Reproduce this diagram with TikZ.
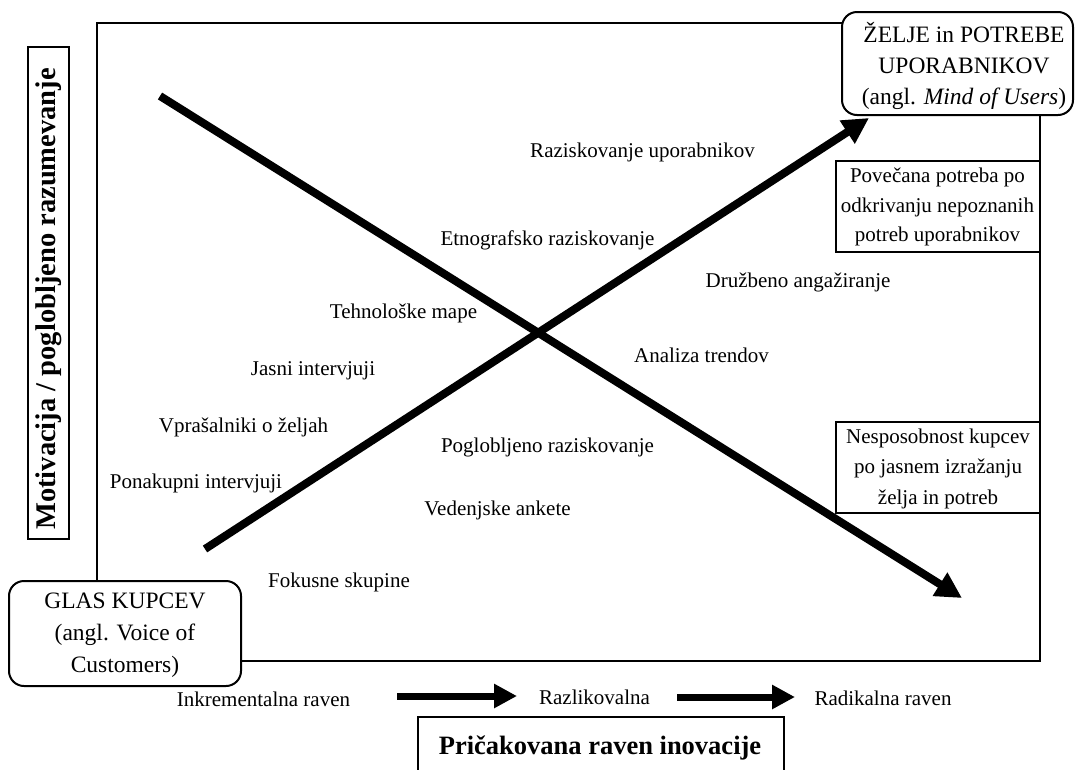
\documentclass[tikz,border=0pt]{standalone}
\usepackage{fontspec}
\setmainfont{Liberation Serif}
\usetikzlibrary{arrows.meta}

\begin{document}
\begin{tikzpicture}[x=1pt,y=-1pt,
  frame/.style={line width=2pt},
  lbl/.style={anchor=base, inner sep=0pt, font=\fontsize{21}{25}\selectfont},
  roundbox/.style={draw, line width=2pt, fill=white, rounded corners=15pt, inner sep=0pt},
  plainbox/.style={draw, line width=2pt, fill=white, inner sep=0pt, align=center,
    minimum width=204pt, minimum height=91pt},
  boxtext/.style={inner sep=0pt, align=center, font=\fontsize{23.5}{31}\selectfont},
  bigarrow/.style={line width=8pt, -{Triangle[length=26pt,width=26pt]}},
  levelarrow/.style={line width=7pt, -{Triangle[length=23pt,width=23pt]}},
]
\useasboundingbox (0,0) rectangle (1075,769);
\fill[white] (0,0) rectangle (1075,769);

% outer frame of the chart
\coordinate (ftl) at (97,23);
\coordinate (fbr) at (1040,661);
\draw[frame] (ftl) rectangle (fbr);

% vertical axis caption
\node[draw, line width=2pt, fill=white, minimum width=41pt, minimum height=492pt, inner sep=0pt]
  (axisbox) at (48.5,293) {};
\node[rotate=90, inner sep=0pt, font=\bfseries\fontsize{28.5}{32}\selectfont]
  (axistxt) at (49,299) {Motivacija / poglobljeno razumevanje};

% corner boxes
\node[roundbox, minimum width=231pt, minimum height=103pt] (zelje) at (957.5,63.5) {};
\node[boxtext] (zeljetxt) at (964,66.8)
  {\strut ŽELJE in POTREBE\\\strut UPORABNIKOV\\\strut (angl. \textit{Mind of Users})};

\node[roundbox, minimum width=232pt, minimum height=105pt] (glas) at (125,633.5) {};
\node[boxtext, font=\fontsize{23.5}{32}\selectfont] (glastxt) at (125,633.6)
  {\strut GLAS KUPCEV\\\strut (angl. Voice of\\\strut Customers)};

% boxes on the right edge
\node[plainbox, font=\fontsize{21}{29.5}\selectfont] (povecana) at (937.5,206.5)
  {\strut Povečana potreba po\\\strut odkrivanju nepoznanih\\\strut potreb uporabnikov};
\node[plainbox, font=\fontsize{21}{30.5}\selectfont] (nesposobnost) at (938,467.5)
  {\strut Nesposobnost kupcev\\\strut po jasnem izražanju\\\strut želja in potreb};

% crossing arrows
\coordinate (upstart) at (205,549);
\coordinate (upend) at (869,118);
\coordinate (downstart) at (160,96);
\coordinate (downend) at (962,598);
\draw[bigarrow] (upstart) -- (upend);
\draw[bigarrow] (downstart) -- (downend);

% methods
\node[lbl] (m1) at (642.5,157) {Raziskovanje uporabnikov};
\node[lbl] (m2) at (547.5,245) {Etnografsko raziskovanje};
\node[lbl] (m3) at (798,287) {Družbeno angažiranje};
\node[lbl] (m4) at (403.5,318) {Tehnološke mape};
\node[lbl] (m5) at (701.5,362) {Analiza trendov};
\node[lbl] (m6) at (313,375) {Jasni intervjuji};
\node[lbl] (m7) at (243.5,432) {Vprašalniki o željah};
\node[lbl] (m8) at (547.5,452) {Poglobljeno raziskovanje};
\node[lbl] (m9) at (196,488) {Ponakupni intervjuji};
\node[lbl] (m10) at (497.5,515) {Vedenjske ankete};
\node[lbl] (m11) at (339,587) {Fokusne skupine};

% innovation levels
\node[lbl] (inc) at (263.5,706) {Inkrementalna raven};
\node[lbl] (dif) at (594.5,704) {Razlikovalna};
\node[lbl] (rad) at (883,705) {Radikalna raven};
\coordinate (a1s) at (397,696);
\coordinate (a1e) at (517,696);
\coordinate (a2s) at (677,697);
\coordinate (a2e) at (795,697);
\draw[levelarrow] (a1s) -- (a1e);
\draw[levelarrow] (a2s) -- (a2e);

% horizontal axis caption
\draw[line width=2pt] (418,772) |- (784,717) -- (784,772);
\node[anchor=base, inner sep=0pt, font=\bfseries\fontsize{26.5}{30}\selectfont]
  (level) at (600,754) {Pričakovana raven inovacije};
\end{tikzpicture}
\end{document}
